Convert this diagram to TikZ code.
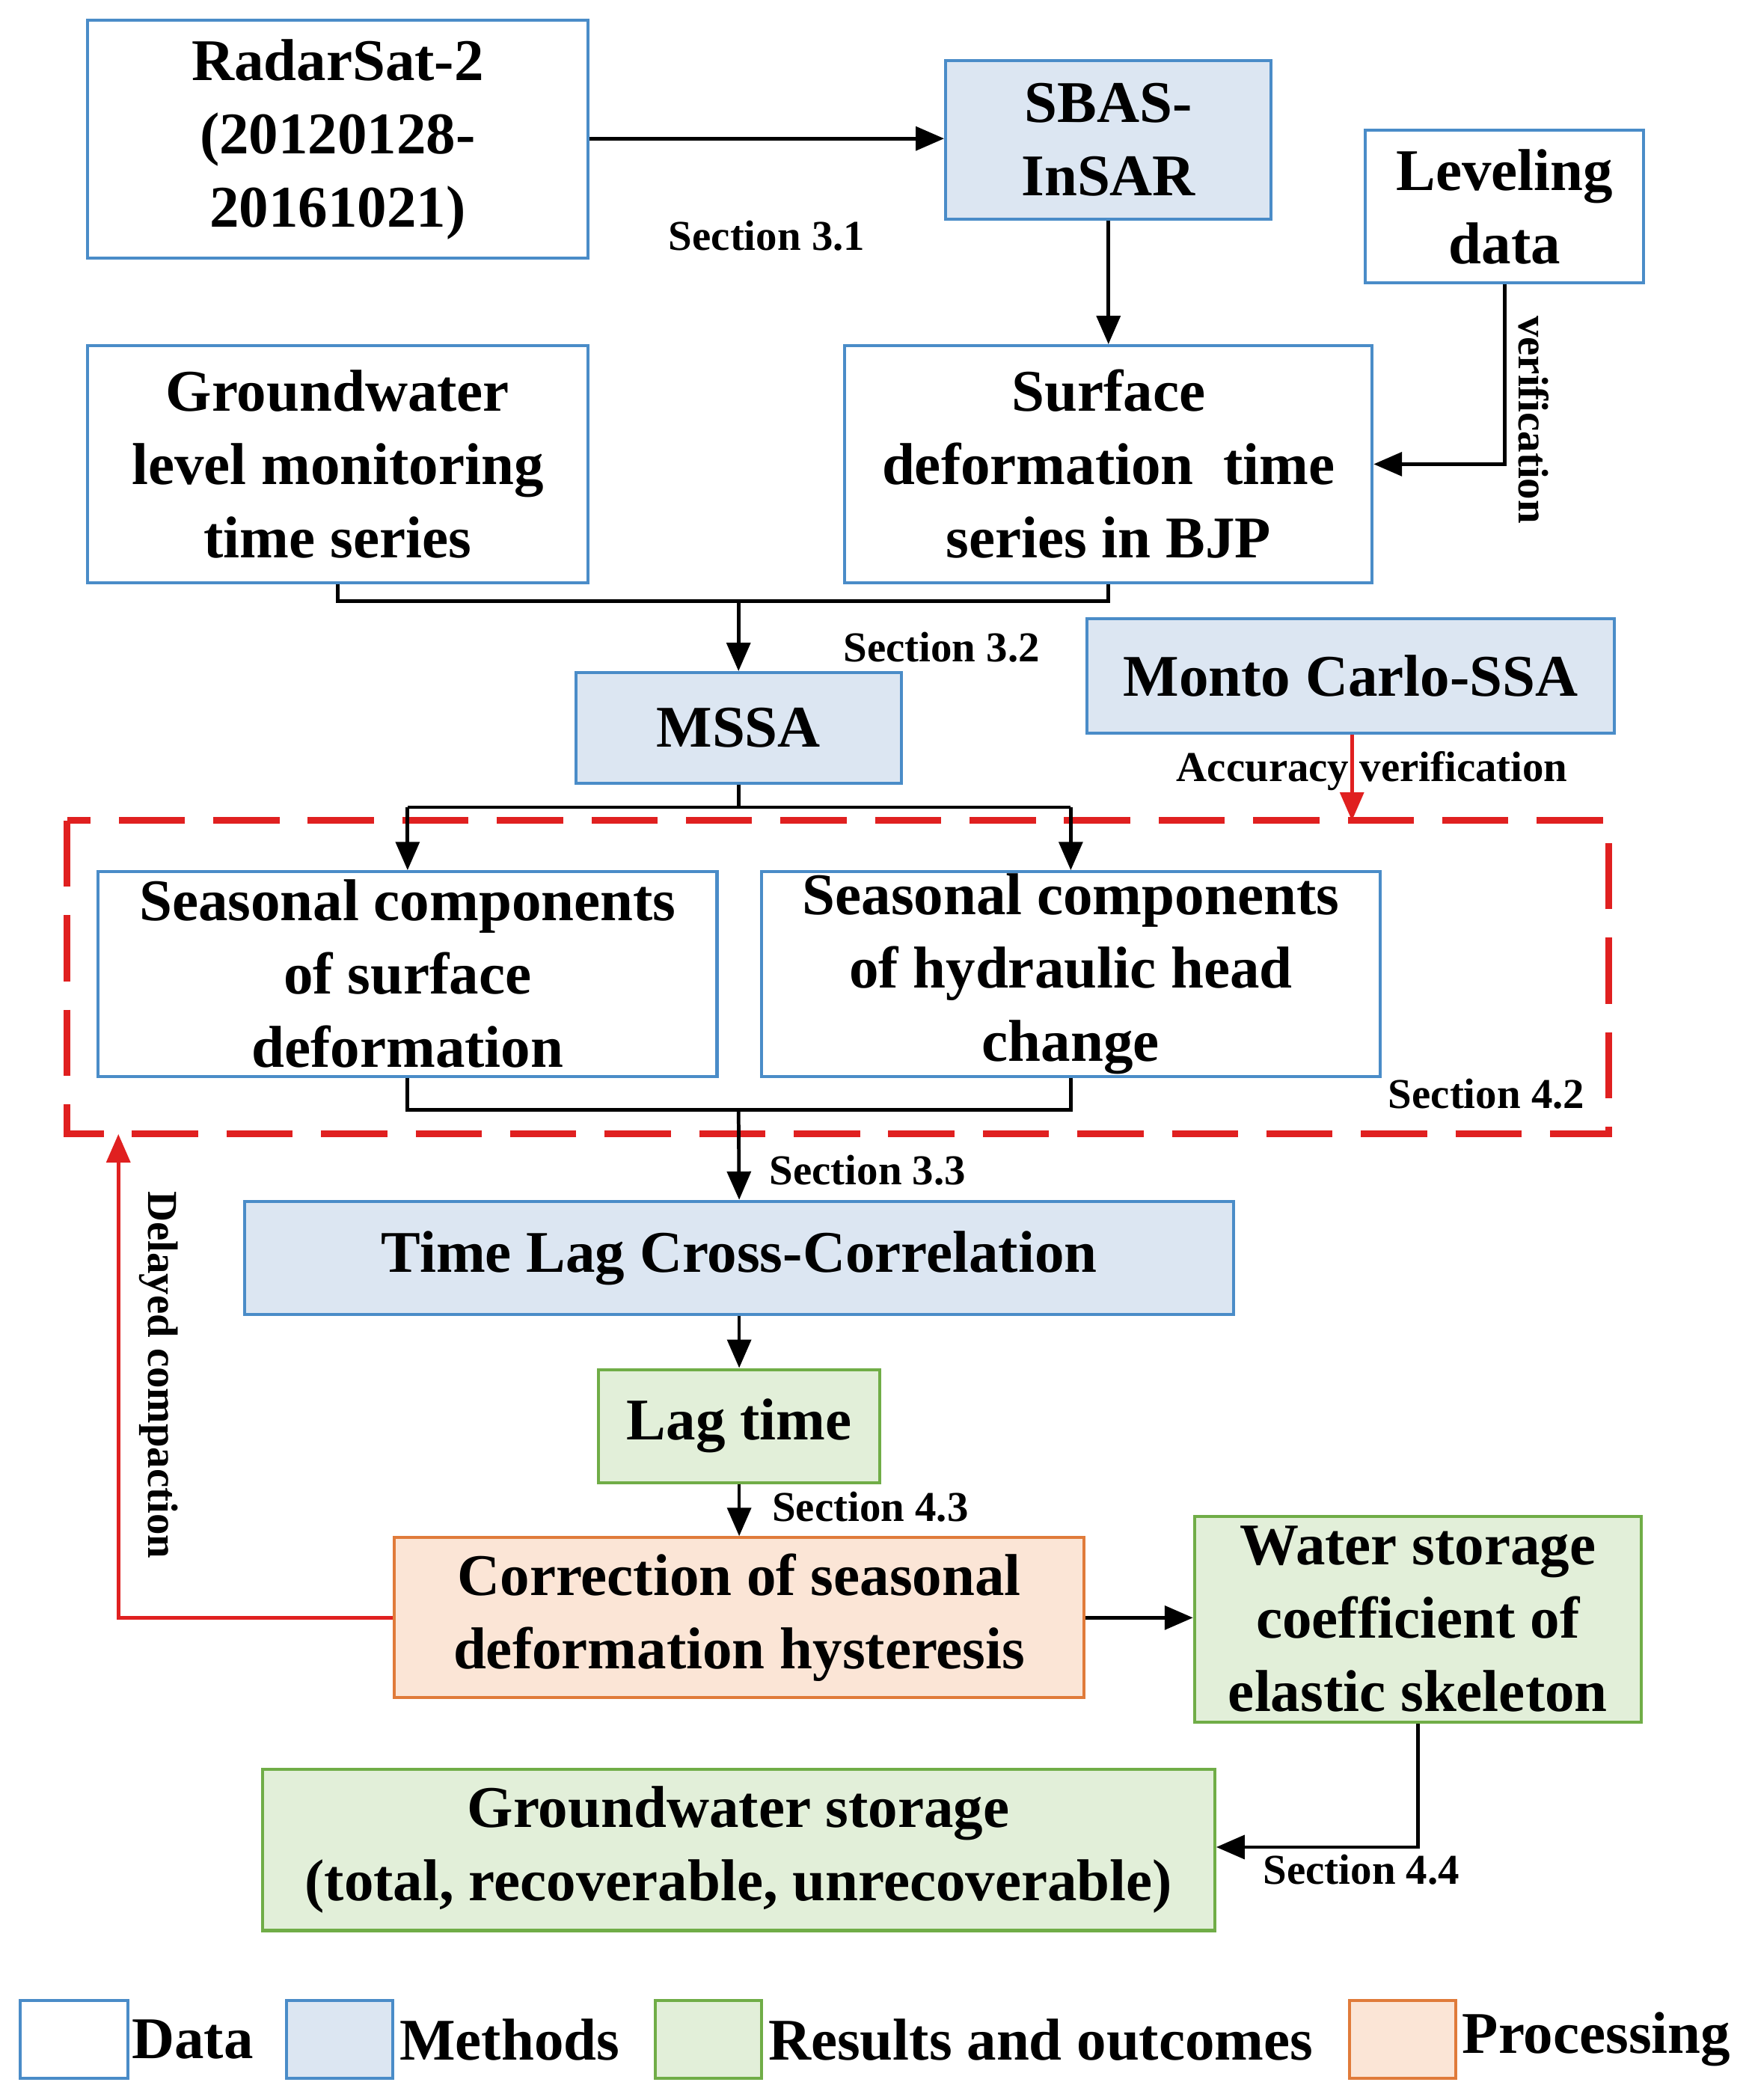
\documentclass[tikz,border=0pt]{standalone}
\usepackage{fontspec}
\setmainfont{Liberation Serif}
\usetikzlibrary{arrows.meta}
\definecolor{bb}{HTML}{4A8CC8}
\definecolor{bf}{HTML}{DCE6F2}
\definecolor{gb}{HTML}{70AD47}
\definecolor{gf}{HTML}{E2EFD9}
\definecolor{ob}{HTML}{E07B3A}
\definecolor{of}{HTML}{FBE5D6}
\definecolor{rr}{HTML}{E02020}
\begin{document}
\begin{tikzpicture}[x=0.02cm,y=-0.02cm,
  bx/.style={draw=bb,line width=1.3pt,align=center,inner sep=0pt,font=\fontsize{25}{31}\selectfont\bfseries},
  data/.style={bx,fill=white},
  meth/.style={bx,fill=bf},
  res/.style={bx,draw=gb,fill=gf},
  proc/.style={bx,draw=ob,fill=of},
  lab/.style={font=\fontsize{18}{20}\selectfont\bfseries,inner sep=1pt},
  ar/.style={line width=1.5pt,-{Triangle[length=12pt,width=10pt]}},
  ln/.style={line width=1.5pt},
  rar/.style={ar,draw=rr,color=rr}]
\useasboundingbox (0,0) rectangle (1300,1561);
\newcommand\bx[6]{\node[#1,minimum width={(#4-#2)*0.02cm},minimum height={(#5-#3)*0.02cm}] (#6) at ({(#2+#4)/2},{(#3+#5)/2})}
\bx{data}{65}{15}{437}{192}{rs} {RadarSat-2\\(20120128-\\20161021)};
\bx{meth}{703}{45}{945}{163}{sb} {SBAS-\\InSAR};
\bx{data}{1015}{97}{1222}{210}{lv} {Leveling\\data};
\bx{data}{65}{257}{437}{433}{gw} {Groundwater\\level monitoring\\time series};
\bx{data}{628}{257}{1020}{433}{sd} {Surface\\deformation~~time\\series in BJP};
\bx{meth}{428}{500}{670}{582}{ms} {MSSA};
\bx{meth}{808}{460}{1200}{545}{mc} {Monto Carlo-SSA};
\draw[rr,line width=2.8pt,dash pattern=on 28pt off 12pt] (50,610) rectangle (1196,843);
\coordinate (dtop) at (1005,610);
\coordinate (dbot) at (88,843);
\bx{data}{73}{648}{533}{800}{s1} {Seasonal components\\of surface\\deformation};
\bx{data}{566}{648}{1026}{800}{s2} {Seasonal components\\of hydraulic head\\change};
\bx{meth}{182}{893}{917}{977}{tl} {Time Lag Cross-Correlation};
\bx{res}{445}{1018}{654}{1102}{lt} {Lag time};
\bx{proc}{293}{1143}{806}{1262}{co} {Correction of seasonal\\deformation hysteresis};
\bx{res}{888}{1127}{1220}{1280}{ws} {Water storage\\coefficient of\\elastic skeleton};
\bx{res}{195}{1315}{903}{1435}{gs} {Groundwater storage\\(total, recoverable, unrecoverable)};
% legend
\bx{data}{15}{1487}{95}{1545}{l1} {};
\bx{meth}{213}{1487}{292}{1545}{l2} {};
\bx{res}{487}{1487}{566}{1545}{l3} {};
\bx{proc}{1003}{1487}{1082}{1545}{l4} {};
\node[bx,draw=none,anchor=west] (t1) at (97,1516) {Data};
\node[bx,draw=none,anchor=west] (t2) at (296,1516) {Methods};
\node[bx,draw=none,anchor=west] (t3) at (570,1516) {Results and outcomes};
\node[bx,draw=none,anchor=west] (t4) at (1086,1516) {Processing};
% connectors
\draw[ar] (rs.east|-0,103) -- (sb.west|-0,103);
\node[lab] (l31) at (570,175) {Section 3.1};
\draw[ar] (sb) -- (sd);
\draw[ar] (lv.south) |- (sd.east);
\node[lab,rotate=-90] (ver) at (1140,312) {verification};
\draw[ln] (gw.south) |- (549,447) -| (sd.south);
\draw[ar] (549,447) -- (ms.north);
\node[lab] (l32) at (700,481) {Section 3.2};
\draw[ln] (ms.south) -- (549,600);
\draw[ar] (303,600) -- (s1.north);
\draw[ar] (796,600) -- (s2.north);
\draw[ln] (303,600) -- (796,600);
\draw[rar] (mc.south-|dtop) -- (dtop);
\node[lab] (acc) at (1020,573) {Accuracy verification};
\draw[ln] (s1.south) |- (549,825) -| (s2.south);
\draw[ar] (549,825) -- (tl.north);
\node[lab] (l33) at (645,870) {Section 3.3};
\node[lab] (l42) at (1105,813) {Section 4.2};
\draw[ar] (tl) -- (lt);
\draw[ar] (lt) -- (co);
\node[lab] (l43) at (647,1120) {Section 4.3};
\draw[ar] (co.east) -- (co.east-|ws.west);
\draw[ar] (ws.south) |- (gs.east|-0,1373);
\node[lab] (l44) at (1012,1390) {Section 4.4};
\draw[rar] (co.west) -| (dbot);
\node[lab,rotate=-90] (dc) at (118,1022) {Delayed compaction};
\end{tikzpicture}
\end{document}
